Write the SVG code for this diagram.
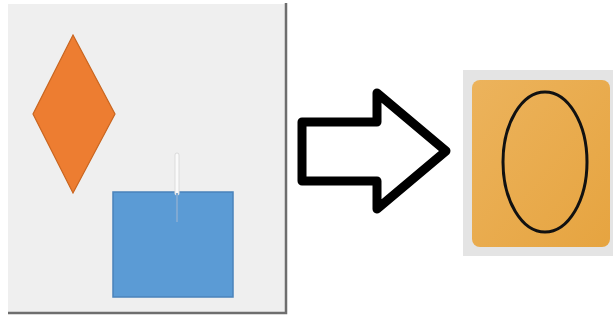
<svg xmlns="http://www.w3.org/2000/svg" width="613" height="320" viewBox="0 0 613 320">
  <defs>
    <linearGradient id="cardFill" x1="0" y1="0" x2="1" y2="1">
      <stop offset="0" stop-color="#ecb35c"/>
      <stop offset="1" stop-color="#e6a440"/>
    </linearGradient>
    <style>
      .panel { fill: #efefef; }
      .edge { stroke: #6e6e6e; stroke-width: 2.5; fill: none; }
      .diamond { fill: #ed7d31; stroke: #c9651f; stroke-width: 1.2; }
      .box { fill: #5b9bd5; stroke: #4a83bb; stroke-width: 1.5; }
      .bigArrow { fill: #ffffff; stroke: #000000; stroke-width: 9; stroke-linejoin: round; }
      .oval { fill: none; stroke: #111111; stroke-width: 3; }
    </style>
  </defs>

  <rect width="613" height="320" fill="#ffffff"/>

  <!-- left panel: before -->
  <g id="before-panel">
    <rect class="panel" x="8" y="4" width="278" height="309"/>
    <path class="edge" d="M286 3 V313 H8"/>
    <g id="diamond">
      <polygon class="diamond" points="73,35 115,114 73,193 33,114"/>
    </g>
    <g id="box">
      <rect class="box" x="113" y="192" width="120" height="105"/>
      <line x1="177" y1="155" x2="177" y2="193" stroke="#dcdcdc" stroke-width="5" stroke-linecap="round"/>
      <line x1="177" y1="155" x2="177" y2="193" stroke="#fafafa" stroke-width="3" stroke-linecap="round"/>
      <line x1="177" y1="193" x2="177" y2="222" stroke="#7fa9d3" stroke-width="2"/>
    </g>
  </g>

  <!-- transition arrow -->
  <g id="connectors">
    <polygon class="bigArrow" points="302,122 377,122 377,93 446,151 377,209 377,181 302,181"/>
  </g>

  <!-- right panel: after -->
  <g id="after-panel">
    <rect x="463" y="70" width="150" height="186" fill="#e4e4e4"/>
    <g id="card">
      <rect x="472" y="80" width="138" height="167" rx="8" fill="url(#cardFill)"/>
      <ellipse class="oval" cx="545" cy="162" rx="42" ry="70"/>
    </g>
  </g>
</svg>
